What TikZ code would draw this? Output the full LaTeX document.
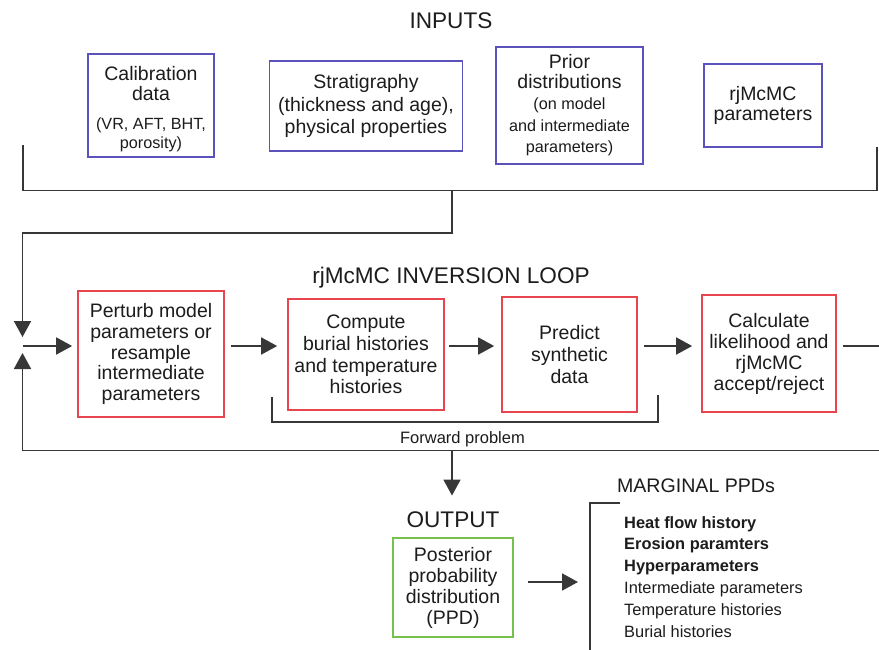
\documentclass[tikz,border=0pt]{standalone}
\usepackage{fontspec}
\setmainfont{Liberation Sans}
\usetikzlibrary{arrows.meta}

\definecolor{inblue}{RGB}{92,82,188}
\definecolor{loopred}{RGB}{232,70,78}
\definecolor{outgreen}{RGB}{118,192,78}
\definecolor{ink}{RGB}{28,28,28}
\definecolor{wirecol}{RGB}{55,55,55}

\newcommand\smallsz{\fontsize{16.2}{17}\selectfont}

\begin{document}
\begin{tikzpicture}[x=1pt,y=-1pt,
  box/.style={draw, line width=1.7pt, inner sep=0pt, align=center, text=ink},
  boxfont/.style={font=\fontsize{19.5}{#1}\selectfont},
  inbox/.style={box, draw=inblue},
  loopbox/.style={box, draw=loopred},
  outbox/.style={box, draw=outgreen},
  wire/.style={draw=wirecol, line width=1.8pt},
  arr/.style={wire, -{Triangle[length=16pt,width=17pt]}},
  heading/.style={text=ink, inner sep=0pt, anchor=base, font=\fontsize{22.6}{26}\selectfont},
  subhead/.style={text=ink, inner sep=0pt, anchor=base, font=\fontsize{19.6}{22}\selectfont},
  note/.style={text=ink, inner sep=0pt, anchor=base, font=\fontsize{16.5}{18}\selectfont},
  item/.style={text=ink, inner sep=0pt, anchor=base west, font=\fontsize{16.4}{18}\selectfont},
]
\useasboundingbox (0,0) rectangle (879,649);
\clip (0,0) rectangle (879,649);
\fill[white] (0,0) rectangle (879,649);

% ---------- inputs ----------
\node[heading] (inputs) at (451,28.3) {INPUTS};

\node[inbox, boxfont=20, minimum width=126pt, minimum height=103pt] (cal) at (151,105.5)
  {\rule{0pt}{22pt}Calibration\\data\\[9pt]{\smallsz (VR, AFT, BHT,}\\[-1pt]{\smallsz porosity)}};
\node[inbox, boxfont=22.5, minimum width=193pt, minimum height=90pt] (strat) at (366,106)
  {Stratigraphy\\(thickness and age),\\physical properties};
\node[inbox, boxfont=20, minimum width=147pt, minimum height=117pt] (prior) at (569.5,105.5)
  {Prior\\distributions\\[1pt]{\smallsz (on model}\\[1.5pt]{\smallsz and intermediate}\\[1.5pt]{\smallsz parameters)}};
\node[inbox, boxfont=20, minimum width=118pt, minimum height=83pt] (rjp) at (763,105.5)
  {rjMcMC\\parameters};

% bracket collecting the inputs
\coordinate (inL) at (23,145);
\coordinate (inLB) at (23,190.5);
\coordinate (inRB) at (877,190.5);
\coordinate (inR) at (877,147);
\draw[wire] (inL) -- (inLB) -- (inRB) -- (inR);

% feed into the loop
\coordinate (feedtop) at (452,190.5);
\coordinate (feedmid) at (452,233);
\coordinate (loopTL) at (22.5,233);
\coordinate (downtip) at (22.5,337);
\draw[arr] (feedtop) -- (feedmid) -- (loopTL) -- (downtip);

% ---------- inversion loop ----------
\node[heading] (loophead) at (451,283) {rjMcMC INVERSION LOOP};

\node[loopbox, boxfont=20.8, minimum width=146pt, minimum height=126pt] (perturb) at (151,354)
  {Perturb model\\parameters or\\resample\\intermediate\\parameters};
\node[loopbox, boxfont=21.7, minimum width=156pt, minimum height=111pt] (compute) at (366,354.5)
  {Compute\\burial histories\\and temperature\\histories};
\node[loopbox, boxfont=22, minimum width=135pt, minimum height=115pt] (predict) at (569.5,354.5)
  {Predict\\synthetic\\data};
\node[loopbox, boxfont=21, minimum width=134pt, minimum height=117pt] (calc) at (769,353.5)
  {Calculate\\likelihood and\\rjMcMC\\accept/reject};

\coordinate (row) at (0,346);
\coordinate (entry) at (22.5,346);
\draw[arr, shorten >=5pt] (entry) -- (perturb.west |- row);
\draw[arr, shorten <=6pt, shorten >=10pt] (perturb.east |- row) -- (compute.west |- row);
\draw[arr, shorten <=4pt, shorten >=7pt] (compute.east |- row) -- (predict.west |- row);
\draw[arr, shorten <=6pt, shorten >=9pt] (predict.east |- row) -- (calc.west |- row);

% return path of the loop
\coordinate (retR) at (895,346);
\coordinate (retRB) at (895,450.5);
\coordinate (loopBL) at (22.5,450.5);
\coordinate (uptip) at (22.5,353);
\draw[arr, shorten <=6pt] (calc.east |- row) -- (retR) -- (retRB) -- (loopBL) -- (uptip);

% forward problem bracket
\coordinate (fwL) at (272,397);
\coordinate (fwLB) at (272,422);
\coordinate (fwRB) at (658,422);
\coordinate (fwR) at (658,395);
\draw[wire] (fwL) -- (fwLB) -- (fwRB) -- (fwR);
\node[note] (fwd) at (462.5,443) {Forward problem};

% ---------- output ----------
\node[heading] (outhead) at (453,527) {OUTPUT};
\coordinate (outsplit) at (452,450.5);
\draw[arr, shorten >=15.5pt] (outsplit) -- (outsplit |- outhead.north);

\node[outbox, boxfont=21, minimum width=120pt, minimum height=99pt] (ppd) at (453,587.5)
  {Posterior\\probability\\distribution\\(PPD)};

\coordinate (margtip) at (578,582);
\draw[arr, shorten <=14pt] (ppd.east |- margtip) -- (margtip);

% marginal PPDs
\node[subhead] (marghead) at (696,492) {MARGINAL PPDs};
\coordinate (mbT) at (620,503);
\coordinate (mbL) at (590,503);
\coordinate (mbB) at (590,660);
\draw[wire] (mbT) -- (mbL) -- (mbB);

\node[item, font=\fontsize{16.4}{18}\selectfont\bfseries] (m1) at (624,528) {Heat flow history};
\node[item, font=\fontsize{16.4}{18}\selectfont\bfseries] (m2) at (624,549.8) {Erosion paramters};
\node[item, font=\fontsize{16.4}{18}\selectfont\bfseries] (m3) at (624,571.6) {Hyperparameters};
\node[item] (m4) at (624,593.4) {Intermediate parameters};
\node[item] (m5) at (624,615.2) {Temperature histories};
\node[item] (m6) at (624,637) {Burial histories};
\end{tikzpicture}
\end{document}
